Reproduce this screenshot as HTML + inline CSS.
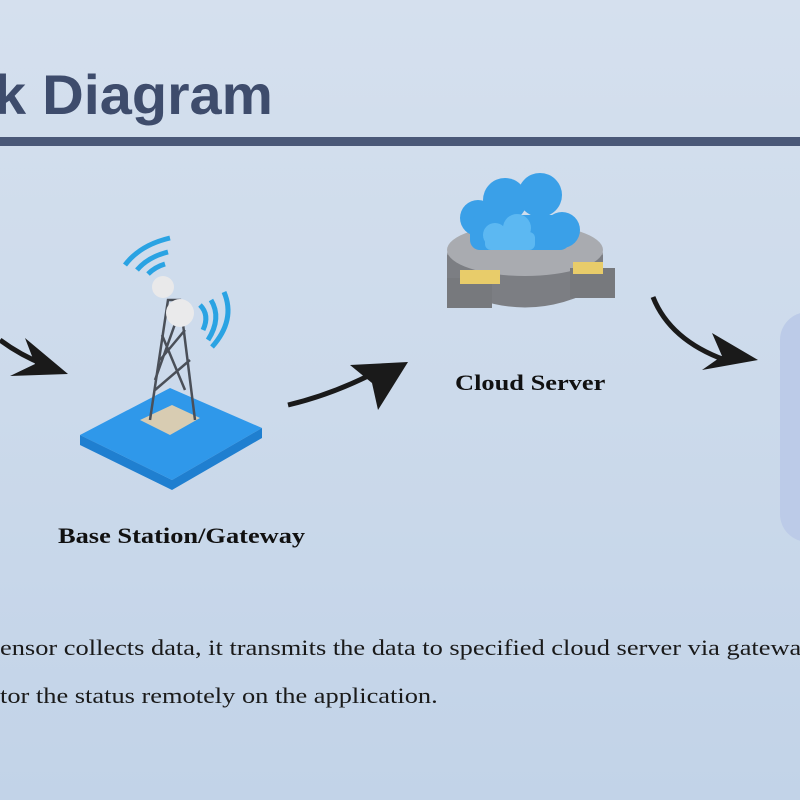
<!DOCTYPE html>
<html><head><style>
html,body{margin:0;padding:0}
body{width:800px;height:800px;overflow:hidden;position:relative;background:linear-gradient(180deg,#d5e0ee 0%,#ccdaeb 50%,#c2d3e8 100%);font-family:"Liberation Serif",serif}
.t{position:absolute;white-space:nowrap;transform:scaleX(1.2);transform-origin:0 0}
</style></head><body>
<div class="t" style="left:-6px;top:62px;font-family:'Liberation Sans',sans-serif;font-weight:bold;font-size:56px;color:#3e4c6c;transform:scaleX(1.03)">k Diagram</div>
<div style="position:absolute;left:0;top:137px;width:800px;height:9px;background:#4a5878"></div>
<div style="position:absolute;left:780px;top:312px;width:60px;height:230px;border-radius:28px;background:#bccbe8"></div>
<svg width="800" height="800" style="position:absolute;left:0;top:0">
<path d="M0 340 Q20 355 45 365" stroke="#1a1a1a" stroke-width="5" fill="none"/>
<path d="M25 338 L68 374 L10 376 L35 364 Z" fill="#1a1a1a"/>
<path d="M288 405 Q330 395 370 375" stroke="#1a1a1a" stroke-width="5" fill="none"/>
<path d="M350 365 L408 362 L378 410 L372 383 Z" fill="#1a1a1a"/>
<path d="M653 297 Q670 340 725 360" stroke="#1a1a1a" stroke-width="5" fill="none"/>
<path d="M712 333 L758 360 L702 370 L722 356 Z" fill="#1a1a1a"/>
<path d="M80 435 L170 388 L262 428 L172 480 Z" fill="#2f98ea"/>
<path d="M80 435 L80 445 L172 490 L262 438 L262 428 L172 480 Z" fill="#1f7fd0"/>
<path d="M140 420 L172 405 L200 418 L170 435 Z" fill="#d8ccb2"/>
<g stroke="#4a4f58" stroke-width="2.5" fill="none">
<path d="M150 420 L168 300 L180 300 L195 420"/>
<path d="M155 390 L190 360 M160 360 L185 330 M162 335 L185 390 M155 380 L180 310"/>
</g>
<circle cx="163" cy="287" r="11" fill="#e9e9ea"/>
<circle cx="180" cy="313" r="14" fill="#eaeaeb"/>
<g stroke="#2aa3e3" stroke-width="5" fill="none">
<path d="M125 265 Q140 245 170 238"/><path d="M137 270 Q148 257 168 252"/><path d="M148 274 Q155 267 165 264"/>
<path d="M200 305 Q210 315 203 330"/><path d="M211 300 Q222 318 208 340"/><path d="M224 292 Q236 320 212 347"/>
</g>
<ellipse cx="525" cy="255" rx="78" ry="30" fill="#8e9095"/>
<path d="M447 255 L447 285 Q525 330 603 285 L603 255 Z" fill="#7c7e83"/>
<ellipse cx="525" cy="250" rx="78" ry="26" fill="#a9abb0"/>
<rect x="447" y="278" width="45" height="30" fill="#77797d"/>
<rect x="460" y="270" width="40" height="14" fill="#e8cc6a"/>
<rect x="570" y="268" width="45" height="30" fill="#77797d"/>
<rect x="573" y="262" width="30" height="12" fill="#e8cc6a"/>
<g fill="#3aa0e8">
<circle cx="478" cy="218" r="18"/><circle cx="505" cy="200" r="22"/><circle cx="540" cy="195" r="22"/><circle cx="562" cy="230" r="18"/><rect x="470" y="215" width="100" height="35" rx="10"/>
</g>
<g fill="#5cb8f2"><circle cx="495" cy="235" r="12"/><circle cx="517" cy="228" r="14"/><rect x="485" y="232" width="50" height="18" rx="6"/></g>
</svg>
<div class="t" style="left:455px;top:370px;font-weight:bold;font-size:22px;color:#111;">Cloud Server</div>
<div class="t" style="left:58px;top:523px;font-weight:bold;font-size:22px;color:#111;">Base Station/Gateway</div>
<div class="t" style="left:0px;top:635px;font-size:22px;color:#1a1a1a;">ensor collects data, it transmits the data to specified cloud server via gateway</div>
<div class="t" style="left:0px;top:683px;font-size:22px;color:#1a1a1a;">tor the status remotely on the application.</div>
</body></html>
